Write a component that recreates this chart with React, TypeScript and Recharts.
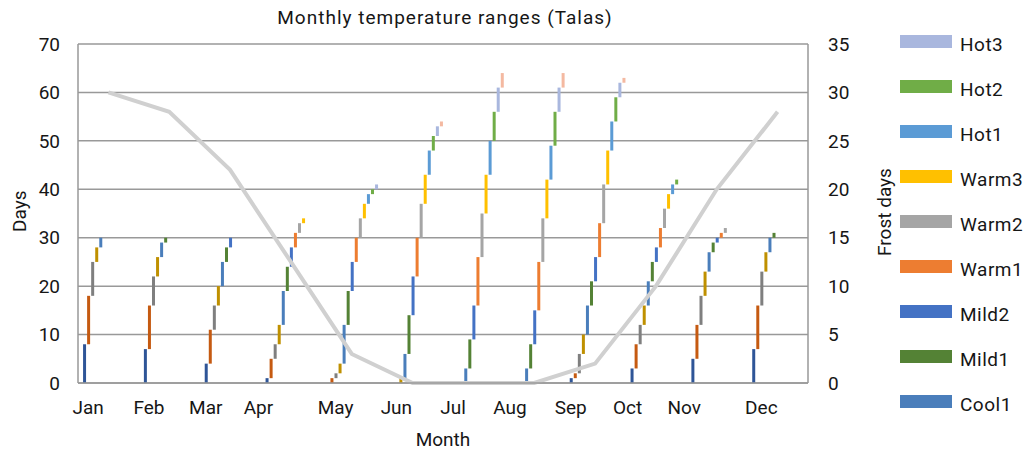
import { Bar, CartesianGrid, Cell, ComposedChart, Line, XAxis, YAxis } from "recharts";

const months = ["Jan", "Feb", "Mar", "Apr", "May", "Jun", "Jul", "Aug", "Sep", "Oct", "Nov", "Dec"];

// bands from the bottom of each stack upwards
const bandNames = ["Cold4", "Cold3", "Cold2", "Cold1", "Cool1", "Mild1", "Mild2", "Warm1", "Warm2", "Warm3", "Hot1", "Hot2", "Hot3", "Hot4"];
const bandColors = ["#2F5597", "#C55A11", "#7F7F7F", "#BF9000", "#4A7EBB", "#548235", "#4472C4", "#ED7D31", "#A5A5A5", "#FFC000", "#5B9BD5", "#70AD47", "#A9B7DE", "#F4B9A1"];

// days in each band, bottom band first
const jan = [8, 10, 7, 3, 2];
const feb = [7, 9, 6, 4, 3, 1];
const mar = [4, 7, 5, 4, 5, 3, 2];
const apr = [1, 4, 3, 4, 7, 5, 4, 3, 2, 1];
const may = [0, 1, 1, 2, 8, 7, 6, 5, 4, 3, 2, 1, 1];
const jun = [0, 0, 0, 1, 5, 8, 8, 8, 7, 6, 5, 3, 2, 1];
const jul = [0, 0, 0, 0, 3, 6, 7, 10, 9, 8, 7, 6, 5, 3];
const aug = [0, 0, 0, 0, 3, 5, 7, 10, 9, 8, 7, 7, 5, 3];
const sep = [1, 1, 4, 4, 6, 5, 5, 7, 8, 7, 6, 5, 3, 1];
const oct = [3, 5, 4, 4, 5, 4, 3, 4, 4, 3, 2, 1];
const nov = [5, 7, 6, 5, 4, 2, 1, 1, 1];
const dec = [7, 9, 7, 4, 3, 1];

const frostDays = [30, 28, 22, 12.5, 3, 0, 0, 0, 2, 10, 20, 28];

// slot under each month label (the labels don't sit on the month centres)
const monthLabelSlots = [2, 17, 31, 44, 63, 78, 92, 106, 121, 135, 149, 168];

const legendNames = ["Hot3", "Hot2", "Hot1", "Warm3", "Warm2", "Warm1", "Mild2", "Mild1", "Cool1"];

const dayTicks = [0, 10, 20, 30, 40, 50, 60, 70];
const frostTicks = [0, 5, 10, 15, 20, 25, 30, 35];

const monthBands = [jan, feb, mar, apr, may, jun, jul, aug, sep, oct, nov, dec];
const SLOTS = 15;

type Row = { slot: number; band: number; range?: [number, number]; frost?: number };

const rows: Row[] = [];
monthBands.forEach((bands, m) => {
  let base = 0;
  for (let s = 0; s < SLOTS; s++) {
    const row: Row = { slot: m * SLOTS + s, band: s - 1 };
    const v = s > 0 ? bands[s - 1] ?? 0 : 0;
    if (v > 0) row.range = [base, base + v];
    base += v;
    if (s === 7) row.frost = frostDays[m];
    rows.push(row);
  }
});

const font = "Roboto, 'Liberation Sans', sans-serif";
const ink = "#161616";
const gridColor = "#999999";

export default function App() {
  return (
    <div style={{ position: "absolute", left: 0, top: 0, width: 1029, height: 452, fontFamily: font, color: ink, background: "#fff" }}>
      <div style={{ position: "absolute", left: 0, width: 890, top: 6, textAlign: "center", fontSize: 19, letterSpacing: 1 }}>
        Monthly temperature ranges (Talas)
      </div>

      <ComposedChart width={1029} height={452} data={rows} margin={{ top: 44, right: 0, bottom: 0, left: 0 }}>
        <CartesianGrid vertical={false} stroke={gridColor} strokeWidth={1.5} />
        <XAxis
          dataKey="slot"
          type="category"
          height={69}
          ticks={monthLabelSlots}
          interval={0}
          tickLine={false}
          tickMargin={12}
          axisLine={{ stroke: gridColor, strokeWidth: 1.5 }}
          tickFormatter={(v) => months[monthLabelSlots.indexOf(Number(v))] ?? ""}
          tick={{ fontSize: 19, fill: ink, fontFamily: font }}
        />
        <YAxis
          width={78}
          domain={[0, 70]}
          ticks={dayTicks}
          interval={0}
          tickLine={false}
          tickMargin={12}
          axisLine={{ stroke: gridColor, strokeWidth: 1.5 }}
          tick={{ fontSize: 19, fill: ink, fontFamily: font }}
        />
        <YAxis
          yAxisId="frost"
          orientation="right"
          width={221}
          domain={[0, 35]}
          ticks={frostTicks}
          interval={0}
          tickLine={false}
          tickMargin={14}
          axisLine={{ stroke: gridColor, strokeWidth: 1.5 }}
          tick={{ fontSize: 19, fill: ink, fontFamily: font }}
        />
        <Bar dataKey="range" barSize={3} isAnimationActive={false}>
          {rows.map((r) => (
            <Cell key={r.slot} fill={r.band >= 0 ? bandColors[r.band] : "none"} />
          ))}
        </Bar>
        <Line
          yAxisId="frost"
          dataKey="frost"
          type="linear"
          connectNulls
          dot={false}
          stroke="#d0d0d0"
          strokeWidth={4}
          isAnimationActive={false}
        />
      </ComposedChart>

      <div style={{ position: "absolute", left: 0, top: 213, width: 38, textAlign: "center", transform: "translateY(-50%) rotate(-90deg)", fontSize: 19 }}>
        Days
      </div>
      <div style={{ position: "absolute", left: 834, top: 212, width: 100, textAlign: "center", transform: "translateY(-50%) rotate(-90deg)", fontSize: 19 }}>
        Frost days
      </div>
      <div style={{ position: "absolute", left: 343, top: 428, width: 200, textAlign: "center", fontSize: 19 }}>
        Month
      </div>

      <div style={{ position: "absolute", left: 900, top: 22 }}>
        {legendNames.map((name) => (
          <div key={name} style={{ display: "flex", alignItems: "center", height: 45 }}>
            <span style={{ width: 52, height: 13, background: bandColors[bandNames.indexOf(name)], marginTop: -6 }} />
            <span style={{ marginLeft: 8, fontSize: 19, letterSpacing: 0.5 }}>{name}</span>
          </div>
        ))}
      </div>
    </div>
  );
}
